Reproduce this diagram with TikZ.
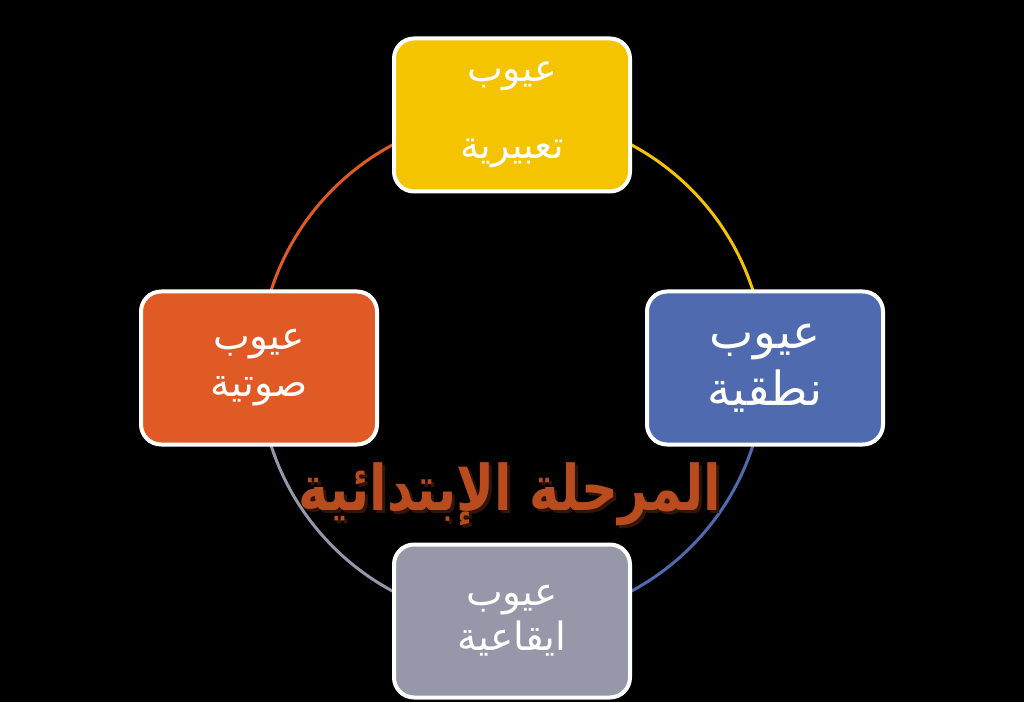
\documentclass[tikz,border=0pt]{standalone}
\usepackage{fontspec}
\TeXXeTstate=1
\newfontfamily\arabicfont[Script=Arabic]{DejaVu Sans}
\definecolor{ycol}{RGB}{245,196,0}
\definecolor{bcol}{RGB}{80,106,176}
\definecolor{gcol}{RGB}{150,151,168}
\definecolor{ocol}{RGB}{224,90,38}
\definecolor{tcol}{RGB}{184,76,30}
\definecolor{scol}{RGB}{50,20,8}
\newcommand{\mytitletext}{\scalebox{0.81}[1]{\beginR المرحلة الإبتدائية\endR}}
\begin{document}
\begin{tikzpicture}[x=1pt,y=1pt,
  box/.style={draw=white, line width=4, rounded corners=20, minimum width=236, minimum height=153, text=white, align=center, inner sep=0},
  arcline/.style={line width=3},
  titlefont/.style={font=\arabicfont\bfseries\fontsize{63}{70}\selectfont}]
\fill[black] (0,0) rectangle (1024,702);
\useasboundingbox (0,0) rectangle (1024,702);
\coordinate (c) at (512,334);
\coordinate (ptop) at (512,587);
\coordinate (pright) at (765,334);
\coordinate (pbottom) at (512,81);
\coordinate (pleft) at (259,334);
\draw[arcline, ycol] (ptop) arc[start angle=90, end angle=0, radius=253];
\draw[arcline, bcol] (pright) arc[start angle=0, end angle=-90, radius=253];
\draw[arcline, gcol] (pbottom) arc[start angle=270, end angle=180, radius=253];
\draw[arcline, ocol] (pleft) arc[start angle=180, end angle=90, radius=253];
\node[box, fill=ycol, font=\arabicfont\fontsize{38}{77}\selectfont] (top) at (ptop) {\beginR عيوب\endR\\\beginR تعبيرية\endR};
\node[box, fill=bcol, font=\arabicfont\fontsize{47}{57}\selectfont] (right) at (pright) {\beginR عيوب\endR\\\beginR نطقية\endR};
\node[box, fill=gcol, font=\arabicfont\fontsize{39}{45}\selectfont] (bottom) at (pbottom) {\beginR عيوب\endR\\\beginR ايقاعية\endR};
\node[box, fill=ocol, font=\arabicfont\fontsize{39}{47}\selectfont] (left) at (pleft) {\beginR عيوب\endR\\\beginR صوتية\endR};
\node[titlefont] (title) at (510,206) {\rlap{\hspace{3pt}\raisebox{-3pt}{\textcolor{scol}{\mytitletext}}}\textcolor{tcol}{\mytitletext}};
\end{tikzpicture}
\end{document}
